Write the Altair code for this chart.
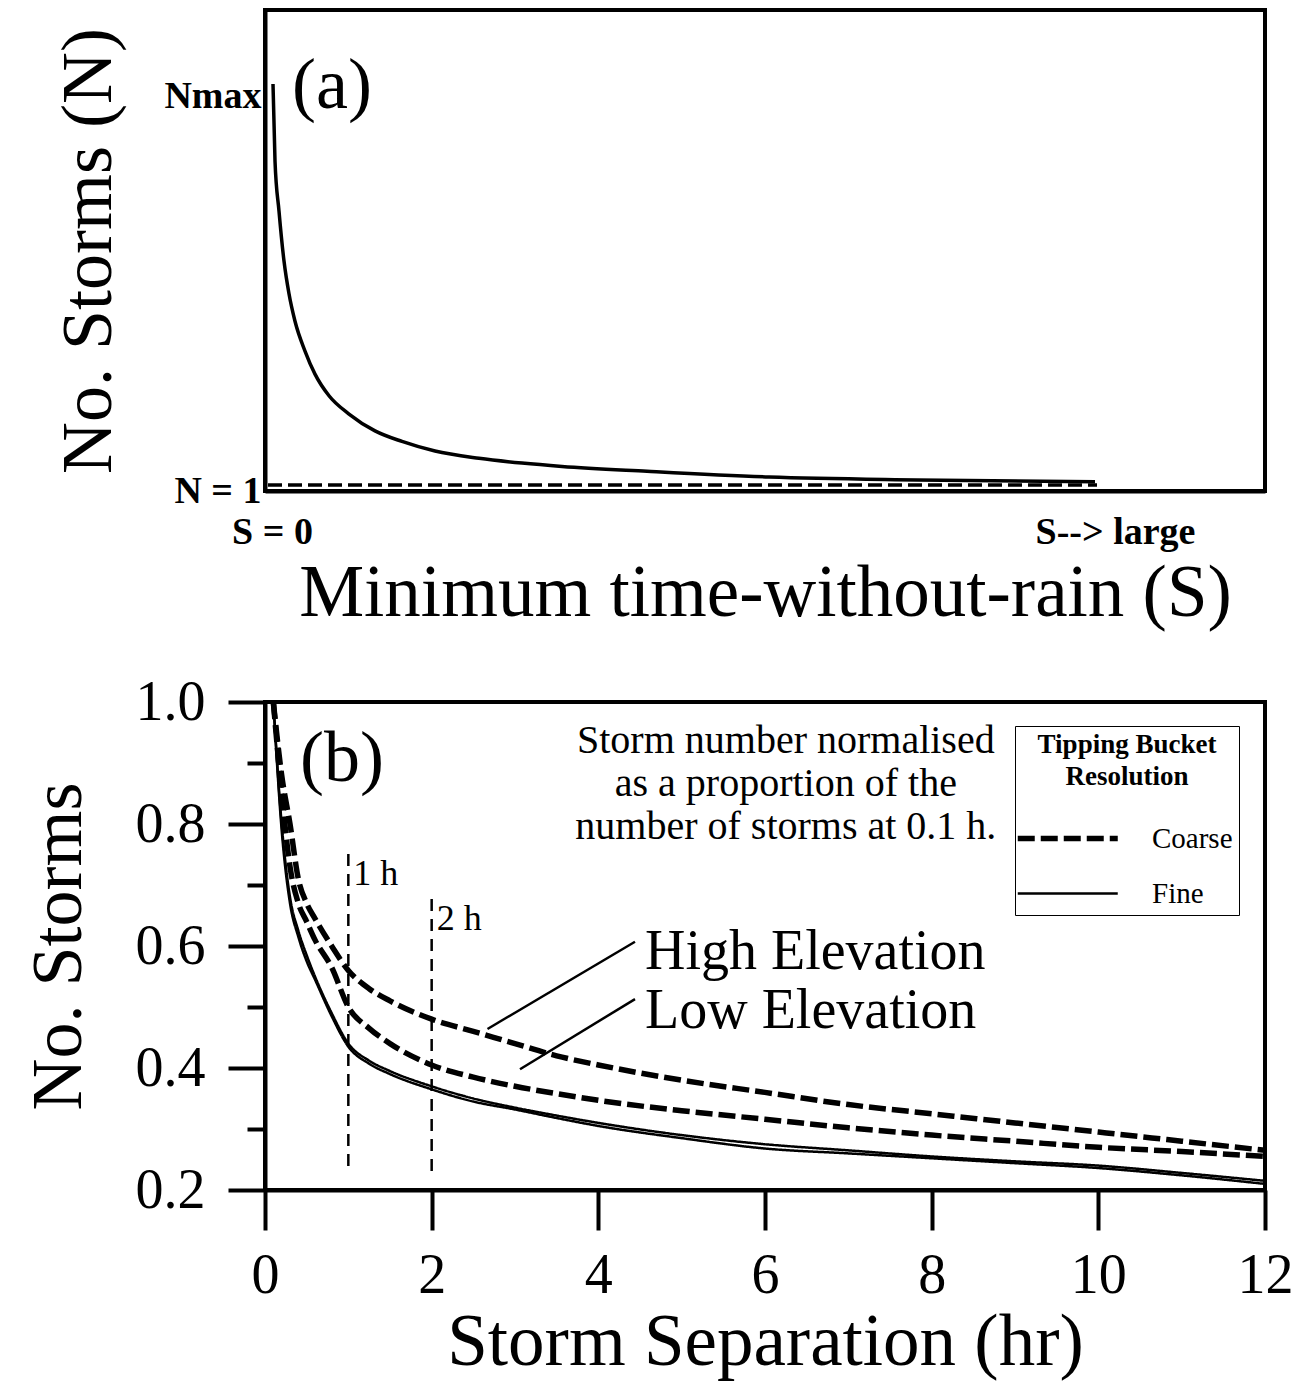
import altair as alt
import pandas as pd

FONT = "Liberation Serif"

# ---------------- Panel (a): schematic ----------------
a_s = [0.8, 1.0, 1.4, 1.9, 2.4, 3.0, 4.0, 5.0, 6.4, 8.4, 11.0, 13.7, 17.0, 21.4, 25.7, 29.7, 38.2, 50.4, 65.2, 83.0]
a_n = [84.6, 68.6, 58.2, 47.8, 41.0, 35.3, 29.1, 24.3, 19.8, 16.0, 12.5, 10.3, 8.3, 6.8, 5.8, 5.1, 4.1, 2.9, 2.3, 1.9]
a_floor_s = [0.3, 83.2]
a_floor_n = [1.25, 1.25]
a_xtick_vals = [0.7, 85]
a_ytick_vals = [0, 82]

# ---------------- Panel (b): normalised storm number ----------------
b_hours = [0.1, 0.2, 0.3, 0.4, 0.5, 0.6, 0.8, 1.0, 1.25, 1.5, 2, 2.5, 3, 3.5, 4, 5, 6, 7, 8, 9, 10, 11, 12]
high_coarse = [1.0, 0.88, 0.80, 0.71, 0.67, 0.645, 0.60, 0.56, 0.53, 0.51, 0.48, 0.46, 0.44, 0.42, 0.405, 0.38, 0.36, 0.34, 0.325, 0.31, 0.295, 0.28, 0.265]
low_coarse = [1.0, 0.85, 0.73, 0.67, 0.64, 0.61, 0.565, 0.50, 0.465, 0.44, 0.405, 0.385, 0.37, 0.358, 0.347, 0.33, 0.316, 0.302, 0.29, 0.28, 0.27, 0.263, 0.255]
high_fine = [1.0, 0.80, 0.68, 0.625, 0.585, 0.55, 0.49, 0.44, 0.412, 0.395, 0.37, 0.35, 0.335, 0.322, 0.31, 0.29, 0.275, 0.265, 0.255, 0.247, 0.24, 0.228, 0.215]
low_fine = [1.0, 0.79, 0.67, 0.615, 0.575, 0.545, 0.485, 0.435, 0.407, 0.39, 0.365, 0.345, 0.332, 0.318, 0.305, 0.285, 0.268, 0.26, 0.252, 0.244, 0.236, 0.224, 0.21]

sep_lines = [1, 2]
sep_top = [0.751, 0.677]
sep_bottom = [0.234, 0.226]
sep_labels = ["1 h", "2 h"]

note_lines = ["Storm number normalised", "as a proportion of the", "number of storms at 0.1 h."]
note_y = [0.936, 0.866, 0.795]

elev_labels = ["High Elevation", "Low Elevation"]
elev_y = [0.59, 0.493]
ptr_x = [4.44, 4.44]
ptr_y = [0.607, 0.513]
ptr_x2 = [2.67, 3.06]
ptr_y2 = [0.464, 0.398]

# ---------------- Panel (a) ----------------
df_a = pd.DataFrame({"s": a_s, "n": a_n})
df_floor = pd.DataFrame({"s": a_floor_s, "n": a_floor_n})

xa = alt.X("s:Q", scale=alt.Scale(domain=[0, 100], nice=False),
           axis=alt.Axis(values=a_xtick_vals, ticks=False, tickSize=0, grid=False,
                         labelExpr="datum.value < 50 ? 'S = 0' : 'S--> large'",
                         labelFont=FONT, labelFontSize=38, labelFontWeight="bold",
                         labelPadding=22, labelFlush=False,
                         title="Minimum time-without-rain (S)", titleFont=FONT,
                         titleFontSize=73, titleFontWeight="normal", titlePadding=6))
ya = alt.Y("n:Q", scale=alt.Scale(domain=[0, 100], nice=False),
           axis=alt.Axis(values=a_ytick_vals, ticks=False, tickSize=0, grid=False,
                         labelExpr="datum.value == 0 ? 'N = 1' : 'Nmax'",
                         labelFont=FONT, labelFontSize=38, labelFontWeight="bold",
                         labelPadding=4, labelFlush=False,
                         title="No. Storms (N)", titleFont=FONT,
                         titleFontSize=72, titleFontWeight="normal", titlePadding=38))

curve_a = alt.Chart(df_a).mark_line(color="black", strokeWidth=3.5, interpolate="monotone").encode(x=xa, y=ya)
floor_a = alt.Chart(df_floor).mark_line(color="black", strokeWidth=3.5, strokeDash=[14, 6]).encode(x="s:Q", y="n:Q")
label_a = alt.Chart(pd.DataFrame({"s": [6.7], "n": [84.2], "t": ["(a)"]})).mark_text(
    font=FONT, fontSize=72, align="center", baseline="middle", color="black").encode(x="s:Q", y="n:Q", text="t:N")

panel_a = alt.layer(curve_a, floor_a, label_a).properties(width=1000, height=481)

# ---------------- Panel (b) ----------------
rows = []
for name, elev, res, vals in [("High coarse", "High", "Coarse", high_coarse),
                              ("Low coarse", "Low", "Coarse", low_coarse),
                              ("High fine", "High", "Fine", high_fine),
                              ("Low fine", "Low", "Fine", low_fine)]:
    for h, v in zip(b_hours, vals):
        rows.append({"series": name, "elev": elev, "res": res, "hours": h, "prop": v})
df_b = pd.DataFrame(rows)

leg = alt.Legend(title=["Tipping Bucket", "Resolution"], orient="none", legendX=750, legendY=24,
                 titleFont=FONT, titleFontSize=27, titleFontWeight="bold", titleAnchor="middle",
                 titleAlign="center", titleLineHeight=32, titlePadding=32, titleColor="black",
                 labelFont=FONT, labelFontSize=29, labelColor="black", labelOffset=100,
                 symbolType="M-1.5,0H6.5", symbolSize=625, symbolStrokeColor="black",
                 symbolFillColor="transparent", strokeColor="black", fillColor="white",
                 padding=6, rowPadding=25)

xb = alt.X("hours:Q", scale=alt.Scale(domain=[0, 12], nice=False),
           axis=alt.Axis(values=[0, 2, 4, 6, 8, 10, 12], labelExpr="format(datum.value, 'd')",
                         tickSize=40, tickWidth=4, tickColor="black",
                         grid=False, labelFont=FONT, labelFontSize=56, labelPadding=18, labelFlush=False,
                         title="Storm Separation (hr)", titleFont=FONT, titleFontSize=73,
                         titleFontWeight="normal", titlePadding=3))
yb = alt.Y("prop:Q", scale=alt.Scale(domain=[0.2, 1.0], nice=False),
           axis=alt.Axis(values=[0.2, 0.3, 0.4, 0.5, 0.6, 0.7, 0.8, 0.9, 1.0],
                         labelExpr="(round(datum.value*10) % 2 == 0) ? format(datum.value, '.1f') : ''",
                         tickSize={"condition": {"test": "round(datum.value*10) % 2 == 1", "value": 18}, "value": 37},
                         tickWidth=4, tickColor="black", grid=False,
                         labelFont=FONT, labelFontSize=56, labelPadding=23, labelFlush=False,
                         title="No. Storms", titleFont=FONT, titleFontSize=72,
                         titleFontWeight="normal", titlePadding=40))

lines_b = alt.Chart(df_b).mark_line(color="black", interpolate="monotone").encode(
    x=xb, y=yb, detail="series:N",
    strokeDash=alt.StrokeDash("res:N", scale=alt.Scale(domain=["Coarse", "Fine"], range=[[17, 6], [1, 0]]), legend=leg),
    strokeWidth=alt.StrokeWidth("res:N", scale=alt.Scale(domain=["Coarse", "Fine"], range=[5.5, 2.5]), legend=leg),
)

df_sep = pd.DataFrame({"hours": sep_lines, "top": sep_top, "bottom": sep_bottom, "t": sep_labels})
sep_rules = alt.Chart(df_sep).mark_rule(color="black", strokeWidth=2.5, strokeDash=[12, 8]).encode(
    x="hours:Q", y="top:Q", y2="bottom:Q")
sep_text = alt.Chart(df_sep).mark_text(font=FONT, fontSize=36, align="left", baseline="middle", dx=5, dy=20,
                                        color="black").encode(x="hours:Q", y="top:Q", text="t:N")

label_b = alt.Chart(pd.DataFrame({"hours": [0.925], "prop": [0.907], "t": ["(b)"]})).mark_text(
    font=FONT, fontSize=72, align="center", baseline="middle", color="black").encode(x="hours:Q", y="prop:Q", text="t:N")

df_note = pd.DataFrame({"hours": [6.25] * 3, "prop": note_y, "t": note_lines})
note = alt.Chart(df_note).mark_text(font=FONT, fontSize=40, align="center", baseline="middle", color="black").encode(
    x="hours:Q", y="prop:Q", text="t:N")

df_elev = pd.DataFrame({"hours": [4.56, 4.56], "prop": elev_y, "t": elev_labels})
elev = alt.Chart(df_elev).mark_text(font=FONT, fontSize=56, align="left", baseline="middle", color="black").encode(
    x="hours:Q", y="prop:Q", text="t:N")

df_ptr = pd.DataFrame({"x": ptr_x, "y": ptr_y, "x2": ptr_x2, "y2": ptr_y2})
ptr = alt.Chart(df_ptr).mark_rule(color="black", strokeWidth=2.5).encode(x="x:Q", y="y:Q", x2="x2:Q", y2="y2:Q")

panel_b = alt.layer(lines_b, sep_rules, sep_text, label_b, note, elev, ptr).properties(width=1000, height=488)

chart = alt.vconcat(panel_a, panel_b, spacing=40).resolve_legend(
    strokeDash="independent", strokeWidth="independent"
).properties(
    padding={"left": 12, "top": 0, "right": 5, "bottom": 0}
).configure_view(stroke="black", strokeWidth=4).configure_axis(
    domainColor="black", domainWidth=4, labelColor="black", titleColor="black"
)

chart.save("out.html", embed_options={"renderer": "svg", "actions": False})
